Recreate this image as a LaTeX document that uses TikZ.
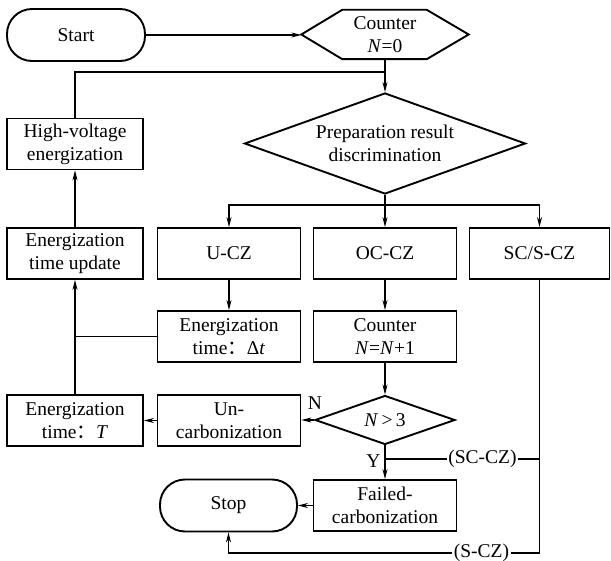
\documentclass[tikz,border=0pt]{standalone}
\usepackage{fontspec}
\setmainfont{Liberation Serif}
\newfontfamily\cjk{Noto Sans CJK SC}
\usetikzlibrary{arrows.meta,shapes.geometric}
\begin{document}
\begin{tikzpicture}[x=1pt,y=-1pt,
  every node/.style={font=\fontsize{19.5}{23}\selectfont, align=center, inner sep=0pt},
  box/.style={draw, line width=1.9pt, minimum width=143pt, minimum height=51pt},
  lbox/.style={box, minimum width=136pt},
  term/.style={draw, line width=1.9pt, rounded corners=25pt, minimum width=137pt, minimum height=52pt},
  dec/.style={draw, line width=1.9pt, diamond},
  conn/.style={line width=1.1pt},
  arr/.style={conn, -{Stealth[length=10pt,width=5pt]}},
  lab/.style={fill=white, inner sep=1.5pt}
]
\useasboundingbox (0,0) rectangle (611,561);

% nodes
\node[term, minimum width=138pt] (start) at (76,35) {Start};
\node[minimum width=167pt, minimum height=49pt] (cnt) at (385,34.5) {Counter\\\textit{N}=0};
\draw[line width=1.9pt] (cnt.west) -- ([xshift=41pt]cnt.north west) -- ([xshift=-42pt]cnt.north east)
  -- (cnt.east) -- ([xshift=-42pt]cnt.south east) -- ([xshift=41pt]cnt.south west) -- cycle;
\node[dec, aspect=2.78, minimum width=281pt, minimum height=101pt] (disc) at (385,143.5) {Preparation result\\discrimination};

\node[lbox] (hv) at (75,144) {High-voltage\\energization};
\node[lbox] (upd) at (75,253.5) {Energization\\time update};
\node[box] (ucz) at (229,253.5) {U-CZ};
\node[box] (occz) at (385,253.5) {OC-CZ};
\node[box, minimum width=140pt] (sccz) at (539.5,253.5) {SC/S-CZ};

\node[box] (dt) at (229,336.5) {Energization\\time{\cjk ：}Δ\textit{t}};
\node[box] (cnt2) at (385,336.5) {Counter\\\textit{N}=\textit{N}+1};

\node[lbox] (tT) at (75,420.5) {Energization\\time{\cjk ：}\textit{T}};
\node[box] (unc) at (229,420.5) {Un-\\carbonization};
\node[dec, aspect=2.86, minimum width=140pt, minimum height=49pt] (n3) at (385,420) {\textit{N}\,>\,3};

\node[box] (fail) at (385,505.5) {Failed-\\carbonization};
\node[term] (stop) at (228.5,505.5) {Stop};

% helper coordinates
\coordinate (j1) at (385,72);
\coordinate (br) at (385,205);
\coordinate (sc1) at (539.5,459);
\coordinate (sc2) at (385,459);
\coordinate (bl) at (539.5,553);

% connectors
\draw[arr] (start.east) -- (start.east -| cnt.west);
\draw[arr] (cnt.south) -- (disc.north);
\draw[conn] (hv.north) |- (j1);
\draw[conn] (disc.south) -- (br);
\draw[arr] (br) -| (ucz.north);
\draw[arr] (br) -| (sccz.north);
\draw[arr] (br) -- (occz.north);
\draw[arr] (ucz) -- (dt);
\draw[arr] (occz) -- (cnt2);
\draw[arr] (cnt2) -- (n3);
\draw[arr] (n3.west) -- (n3.west -| unc.east);
\draw[arr] (unc) -- (tT);
\draw[arr] (tT) -- (upd);
\draw[conn] (dt.west) -- (dt.west -| tT.north);
\draw[arr] (upd) -- (hv);
\draw[arr] (n3.south) -- (fail.north);
\draw[arr] (fail) -- (stop);
\draw[conn] (sc1) -- (sc2);
\draw[arr] (sccz.south) -- (bl) -| (stop.south);

% labels
\node (lN) at (315,403.5) {N};
\node (lY) at (373.5,461) {Y};
\node[lab] (lsc) at (482.5,459) {(SC-CZ)};
\node[lab] (ls) at (481.5,553) {(S-CZ)};
\end{tikzpicture}
\end{document}
